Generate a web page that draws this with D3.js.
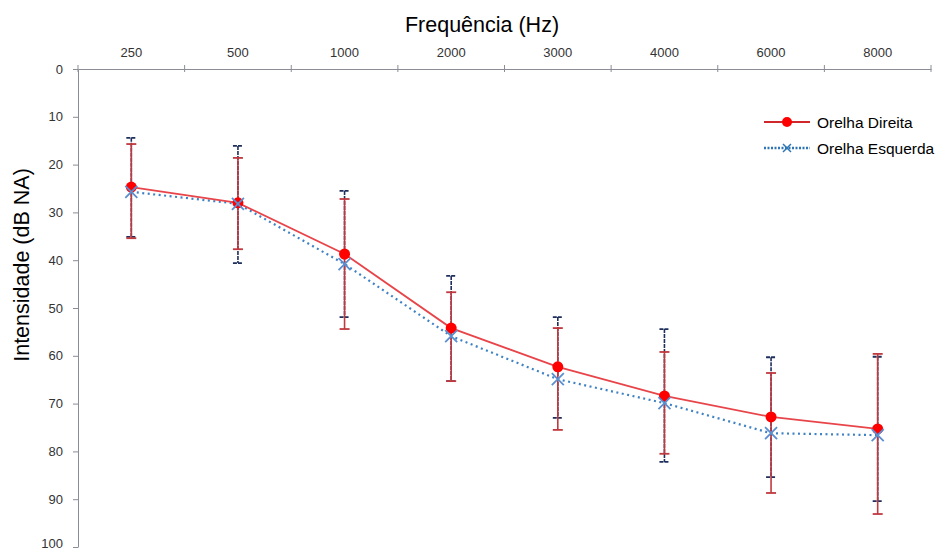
<!DOCTYPE html>
<html>
<head>
<meta charset="utf-8">
<script src="https://cdn.jsdelivr.net/npm/d3@7"></script>
<style>
  body { margin: 0; background: #fff; }
  text { font-family: "Liberation Sans", Arial, sans-serif; }
</style>
</head>
<body>
<script>
// frequencies (Hz) and thresholds (dB NA)
var freqs       = ["250", "500", "1000", "2000", "3000", "4000", "6000", "8000"];
var right_mean  = [24.7, 28.0, 38.7, 54.2, 62.3, 68.4, 72.8, 75.3];
var right_low   = [15.7, 18.6, 27.2, 46.7, 54.2, 59.2, 63.6, 59.6];
var right_high  = [35.4, 37.7, 54.4, 65.3, 75.5, 80.5, 88.7, 93.1];
var left_mean   = [25.7, 28.2, 40.8, 55.9, 64.9, 69.9, 76.2, 76.6];
var left_low    = [14.4, 16.1, 25.5, 43.3, 51.9, 54.4, 60.3, 60.2];
var left_high   = [35.1, 40.6, 51.9, 65.3, 73.0, 82.2, 85.4, 90.4];
var y_ticks     = [0, 10, 20, 30, 40, 50, 60, 70, 80, 90, 100];

var width  = 938;
var height = 552;
var margin = {left: 78, right: 7, top: 69, bottom: 5};

var x = d3.scaleBand().domain(freqs).range([margin.left, width - margin.right]);
var y = d3.scaleLinear().domain([0, 100]).range([margin.top, height - margin.bottom]);

var svg = d3.select("body").append("svg")
    .attr("width", width)
    .attr("height", height);

// top x axis
var xAxis = svg.append("g")
    .attr("transform", "translate(0," + margin.top + ")")
    .call(d3.axisTop(x).tickSize(0).tickPadding(12));
xAxis.select(".domain").attr("stroke", "#8a8d96");
xAxis.selectAll("text").attr("font-size", 13).attr("fill", "#333");
svg.append("g").selectAll("line")
    .data(freqs.concat(["end"]))
    .enter().append("line")
    .attr("x1", function (d, i) { return margin.left + i * x.bandwidth(); })
    .attr("x2", function (d, i) { return margin.left + i * x.bandwidth(); })
    .attr("y1", margin.top - 4)
    .attr("y2", margin.top + 3)
    .attr("stroke", "#8a8d96");

// left y axis
var yAxis = svg.append("g")
    .attr("transform", "translate(" + margin.left + ",0)")
    .call(d3.axisLeft(y).tickValues(y_ticks).tickSize(5).tickSizeOuter(0).tickPadding(10));
yAxis.select(".domain").attr("stroke", "#8a8d96");
yAxis.selectAll("line").attr("stroke", "#8a8d96");
yAxis.selectAll("text").attr("font-size", 13).attr("fill", "#333");
// keep the bottom label inside the picture
yAxis.selectAll("text").filter(function (d) { return d === 100; }).attr("dy", "0.05em");

// axis titles
svg.append("text")
    .attr("x", 482).attr("y", 32)
    .attr("text-anchor", "middle")
    .attr("font-size", 21.5)
    .text("Frequência (Hz)");
svg.append("text")
    .attr("transform", "translate(29,265) rotate(-90)")
    .attr("text-anchor", "middle")
    .attr("font-size", 21.5)
    .text("Intensidade (dB NA)");

function cx(i) { return x(freqs[i]) + x.bandwidth() / 2; }

// error bars
function errorBars(low, high, color, dash) {
    var g = svg.append("g");
    g.selectAll("line.v").data(low).enter().append("line")
        .attr("class", "v")
        .attr("x1", function (d, i) { return cx(i); })
        .attr("x2", function (d, i) { return cx(i); })
        .attr("y1", function (d) { return y(d); })
        .attr("y2", function (d, i) { return y(high[i]); })
        .attr("stroke", color).attr("stroke-width", 1.6)
        .attr("stroke-dasharray", dash);
    [low, high].forEach(function (arr) {
        g.selectAll(null).data(arr).enter().append("line")
            .attr("x1", function (d, i) { return cx(i) - 5; })
            .attr("x2", function (d, i) { return cx(i) + 5; })
            .attr("y1", function (d) { return y(d); })
            .attr("y2", function (d) { return y(d); })
            .attr("stroke", color).attr("stroke-width", 1.8)
            .attr("stroke-dasharray", dash);
    });
}
errorBars(left_low, left_high, "#1f2f5c", "4,1");
errorBars(right_low, right_high, "#c0393f", null);

// lines
var line = d3.line()
    .x(function (d, i) { return cx(i); })
    .y(function (d) { return y(d); });

svg.append("path").datum(left_mean)
    .attr("d", line).attr("fill", "none")
    .attr("stroke", "#3f82c4").attr("stroke-width", 2.2)
    .attr("stroke-dasharray", "2,3.5");
svg.append("path").datum(right_mean)
    .attr("d", line).attr("fill", "none")
    .attr("stroke", "#e8454a").attr("stroke-width", 1.8);

// markers
svg.append("g").selectAll("circle").data(right_mean).enter().append("circle")
    .attr("cx", function (d, i) { return cx(i); })
    .attr("cy", function (d) { return y(d); })
    .attr("r", 5.5).attr("fill", "#ff0000");

svg.append("g").selectAll("path").data(left_mean).enter().append("path")
    .attr("d", function (d, i) {
        var px = cx(i), py = y(d), s = 6;
        return "M" + (px - s) + "," + (py - s) + "L" + (px + s) + "," + (py + s) +
               "M" + (px - s) + "," + (py + s) + "L" + (px + s) + "," + (py - s);
    })
    .attr("stroke", "#5b8fd0").attr("stroke-width", 1.8).attr("fill", "none");

// legend
var legend = svg.append("g");
legend.append("line").attr("x1", 764).attr("x2", 810).attr("y1", 122).attr("y2", 122)
    .attr("stroke", "#d0272d").attr("stroke-width", 2);
legend.append("circle").attr("cx", 787).attr("cy", 122).attr("r", 5).attr("fill", "#ff0000");
legend.append("text").attr("x", 817).attr("y", 128).attr("font-size", 15.5).text("Orelha Direita");

legend.append("line").attr("x1", 764).attr("x2", 810).attr("y1", 148).attr("y2", 148)
    .attr("stroke", "#2e75b6").attr("stroke-width", 2.5).attr("stroke-dasharray", "2,1.5");
legend.append("path")
    .attr("d", "M783,144L791,152M783,152L791,144")
    .attr("stroke", "#2e75b6").attr("stroke-width", 1.5);
legend.append("text").attr("x", 817).attr("y", 154).attr("font-size", 15.5).text("Orelha Esquerda");
</script>
</body>
</html>
